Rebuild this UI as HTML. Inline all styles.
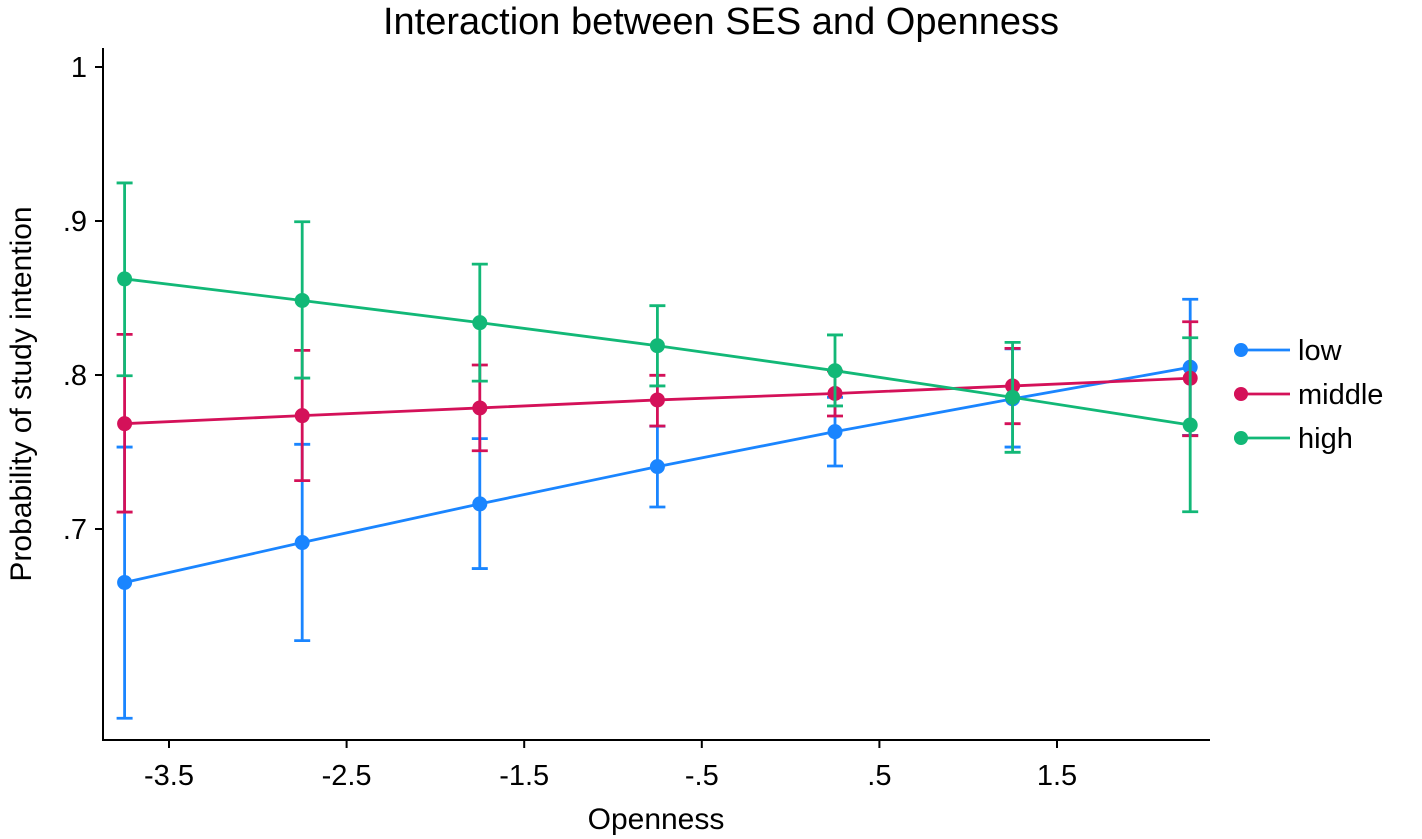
<!DOCTYPE html>
<html><head><meta charset="utf-8"><style>
html,body{margin:0;padding:0;background:#fff;}
svg{display:block;font-family:"Liberation Sans",Arial,sans-serif;}
</style></head><body>
<svg id="chart" width="1422" height="839" viewBox="0 0 1422 839" xmlns="http://www.w3.org/2000/svg">
<rect width="1422" height="839" fill="#fff"/>
<text x="721" y="34" font-size="38" text-anchor="middle" fill="#000">Interaction between SES and Openness</text>
<text transform="translate(31,394) rotate(-90)" font-size="30" text-anchor="middle" fill="#000">Probability of study intention</text>
<text x="656" y="829" font-size="30" text-anchor="middle" fill="#000">Openness</text>
<g id="axes"></g>
<g id="plot"></g>
<g id="legend"></g>
</svg>
<script>
const xValues = [-3.75, -2.75, -1.75, -0.75, 0.25, 1.25, 2.25];
const seriesNames = ["low", "middle", "high"];
const lowMean = [0.6653, 0.6912, 0.7163, 0.7405, 0.7632, 0.7845, 0.805];
const lowHi   = [0.7532, 0.755, 0.7587, 0.7667, 0.7855, 0.817, 0.8492];
const lowLo   = [0.5771, 0.6275, 0.6743, 0.7143, 0.7409, 0.7532, 0.7608];
const midMean = [0.7684, 0.7736, 0.7786, 0.7838, 0.788, 0.7929, 0.7979];
const midHi   = [0.8264, 0.816, 0.8065, 0.7998, 0.8026, 0.8173, 0.8346];
const midLo   = [0.711, 0.7314, 0.7508, 0.7669, 0.7734, 0.7684, 0.7606];
const highMean = [0.8624, 0.8484, 0.834, 0.819, 0.8028, 0.7855, 0.7675];
const highHi   = [0.9247, 0.8995, 0.872, 0.845, 0.826, 0.8212, 0.8242];
const highLo   = [0.7995, 0.798, 0.796, 0.7929, 0.7799, 0.7498, 0.7112];
const yTicks = [1, 0.9, 0.8, 0.7];
const yTickLabels = ["1", ".9", ".8", ".7"];
const xTicks = [-3.5, -2.5, -1.5, -0.5, 0.5, 1.5];
const xTickLabels = ["-3.5", "-2.5", "-1.5", "-.5", ".5", "1.5"];

const NS = "http://www.w3.org/2000/svg";
function X(v){ return 169 + (v + 3.5) * 177.6; }
function Y(v){ return 67 + (1 - v) * 1540; }
function mk(tag, attrs, parent){ const e=document.createElementNS(NS,tag); for(const k in attrs) e.setAttribute(k,attrs[k]); parent.appendChild(e); return e; }

const axes=document.getElementById('axes');
let a=mk('line',{x1:103,y1:48,x2:103,y2:741,stroke:'#000','stroke-width':2},axes);


a=mk('line',{x1:102,y1:740,x2:1210,y2:740,stroke:'#000','stroke-width':2},axes);


yTicks.forEach((t,i)=>{
  const y=Y(t);
  const l=mk('line',{x1:95,y1:y,x2:103,y2:y,stroke:'#000','stroke-width':2},axes);
  
  
  const tx=mk('text',{x:87,y:y+10,'font-size':29,'text-anchor':'end',fill:'#000'},axes);
  tx.textContent=yTickLabels[i];
  
  
});
xTicks.forEach((t,i)=>{
  const x=X(t);
  const l=mk('line',{x1:x,y1:740,x2:x,y2:748,stroke:'#000','stroke-width':2},axes);
  
  
  const tx=mk('text',{x:x,y:785,'font-size':29,'text-anchor':'middle',fill:'#000'},axes);
  tx.textContent=xTickLabels[i];
  
  
});

const series=[
  {name:seriesNames[0],mean:lowMean,hi:lowHi,lo:lowLo,color:'#1a85ff'},
  {name:seriesNames[1],mean:midMean,hi:midHi,lo:midLo,color:'#d41159'},
  {name:seriesNames[2],mean:highMean,hi:highHi,lo:highLo,color:'#12b877'}
];
const plot=document.getElementById('plot');
series.forEach(s=>{
  const g=mk('g',{},plot);
  
  
  xValues.forEach((xv,i)=>{
    const x=X(xv), yh=Y(s.hi[i]), yl=Y(s.lo[i]);
    const e=mk('path',{d:`M${x},${yh}V${yl}M${x-8},${yh}H${x+8}M${x-8},${yl}H${x+8}`,stroke:s.color,'stroke-width':2.8,fill:'none'},g);
    
    
  });
  const pts=xValues.map((xv,i)=>X(xv)+','+Y(s.mean[i])).join(' ');
  const pl=mk('polyline',{points:pts,stroke:s.color,'stroke-width':2.8,fill:'none'},g);
  
  
  xValues.forEach((xv,i)=>{
    const c=mk('circle',{cx:X(xv),cy:Y(s.mean[i]),r:7.5,fill:s.color},g);
    
    
  });
});

const legend=document.getElementById('legend');
series.forEach((s,i)=>{
  const y=350+i*44;
  const g=mk('g',{},legend);
  
  
  mk('line',{x1:1234,y1:y,x2:1290,y2:y,stroke:s.color,'stroke-width':2.8},g);
  mk('circle',{cx:1241,cy:y,r:7,fill:s.color},g);
  const t=mk('text',{x:1298,y:y+10,'font-size':29,fill:'#000'},g);
  t.textContent=s.name;
});
</script>
</body></html>
